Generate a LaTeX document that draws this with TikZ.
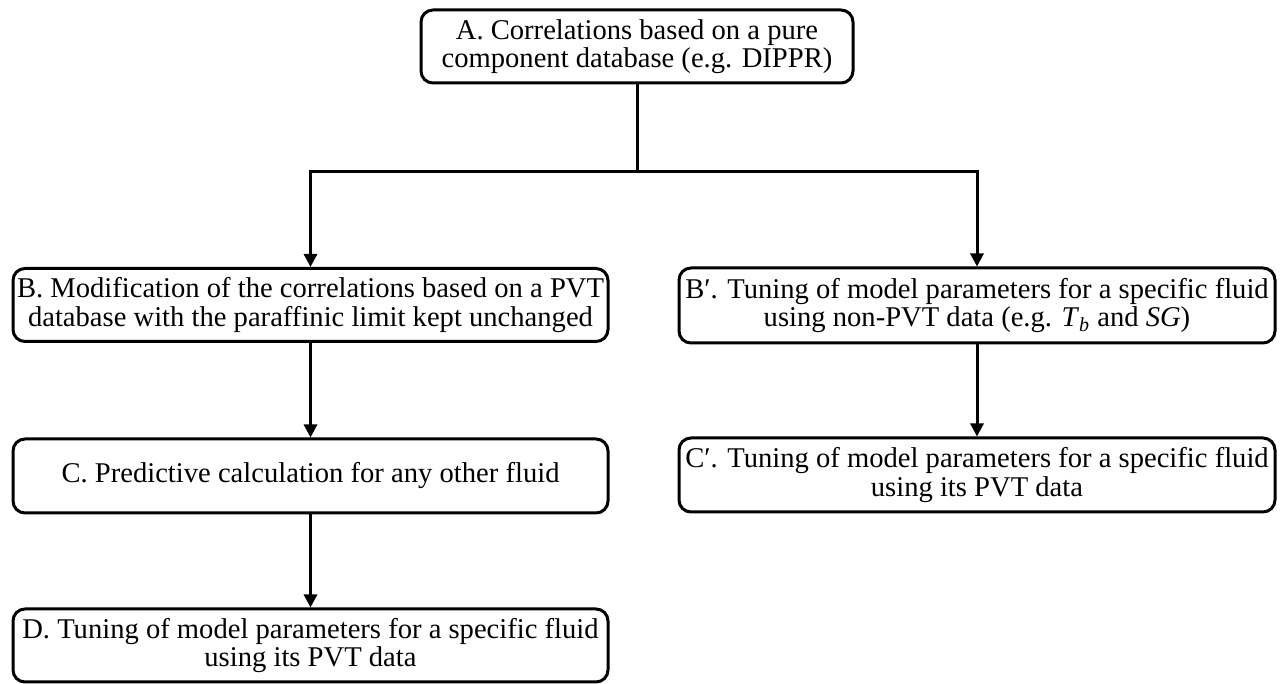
\documentclass[tikz,border=0pt]{standalone}
\usepackage{fontspec}
\setmainfont{Liberation Serif}
\usetikzlibrary{arrows.meta}

\tikzset{
    stage/.style={draw, line width=1.5pt, rounded corners=6pt, align=center,
        inner sep=0pt, font=\fontsize{14.3pt}{14.2pt}\selectfont},
    flow/.style={line width=1.5pt, -{Triangle[length=6.5pt,width=6.5pt]}}
}

\begin{document}
\begin{tikzpicture}[x=0.5pt,y=-0.5pt]
        \useasboundingbox (0,0) rectangle (1282,684);

        \node[stage, minimum width=216pt, minimum height=36.5pt] (A) at (637,46.5)
            {A. Correlations based on a pure\\component database (e.g. DIPPR)};

        % left branch
        \foreach \name/\y in {B/305,C/476,D/645.5} {
            \coordinate (\name pos) at (310.5,\y);
        }
        \node[stage, minimum width=297.5pt, minimum height=36.5pt] (B) at (Bpos)
            {B. Modification of the correlations based on a PVT\\database with the paraffinic limit kept unchanged};
        \node[stage, minimum width=297.5pt, minimum height=37pt] (C) at (Cpos)
            {C. Predictive calculation for any other fluid};
        \node[stage, minimum width=297.5pt, minimum height=36.5pt] (D) at (Dpos)
            {D. Tuning of model parameters for a specific fluid\\using its PVT data};

        % right branch
        \node[stage, minimum width=298pt, minimum height=37.5pt] (Bp) at (977,305.5)
            {B′. Tuning of model parameters for a specific fluid\\using non-PVT data (e.g. \textit{T}\textsubscript{\textit{b}} and \textit{SG})};
        \node[stage, minimum width=298pt, minimum height=37pt] (Cp) at (977,475)
            {C′. Tuning of model parameters for a specific fluid\\using its PVT data};

        \coordinate (split) at (637,172);
        \draw[line width=1.5pt] (A) -- (split);
        \draw[flow] (split) -| (B.north);
        \draw[flow] (split) -| (Bp.north);
        \draw[flow] (B) -- (C);
        \draw[flow] (C) -- (D);
        \draw[flow] (Bp) -- (Cp);
    \end{tikzpicture}
\end{document}
